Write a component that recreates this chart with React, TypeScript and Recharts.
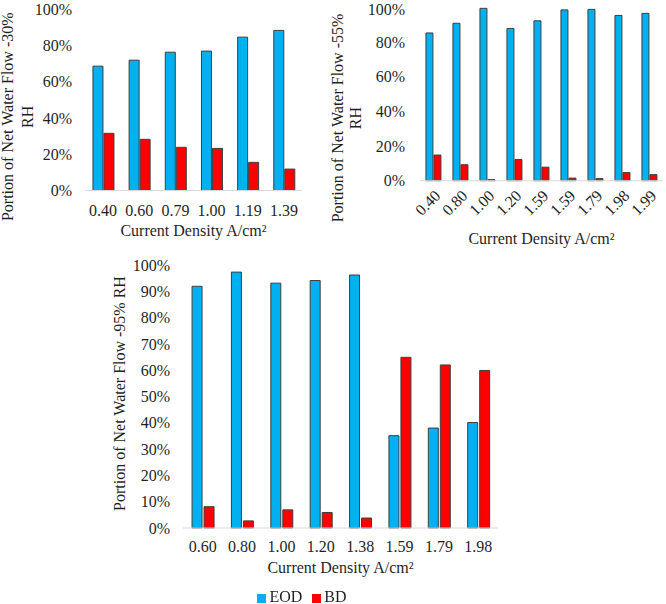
import { BarChart, Bar, XAxis, YAxis, Legend, Label } from "recharts";

// share of net water flow (%) by current density, three humidity levels
const rh30Density = ["0.40", "0.60", "0.79", "1.00", "1.19", "1.39"];
const rh30Eod = [68.5, 71.8, 76.2, 76.8, 84.5, 88.2];
const rh30Bd = [31.5, 28.2, 23.8, 23.2, 15.5, 11.8];

const rh55Density = ["0.40", "0.80", "1.00", "1.20", "1.59", "1.59", "1.79", "1.98", "1.99"];
const rh55Eod = [85.2, 90.8, 99.4, 87.8, 92.2, 98.5, 98.8, 95.3, 96.5];
const rh55Bd = [14.8, 9.2, 0.6, 12.2, 7.8, 1.5, 1.2, 4.7, 3.5];

const rh95Density = ["0.60", "0.80", "1.00", "1.20", "1.38", "1.59", "1.79", "1.98"];
const rh95Eod = [91.9, 97.3, 93.1, 94.1, 96.2, 35.1, 38.0, 40.1];
const rh95Bd = [8.1, 2.7, 6.9, 5.9, 3.8, 64.9, 62.0, 59.9];

const ticks20 = [0, 20, 40, 60, 80, 100];
const ticks10 = [0, 10, 20, 30, 40, 50, 60, 70, 80, 90, 100];
const seriesOrder = ["EOD", "BD"];

const FONT = "Liberation Serif, DejaVu Serif, serif";
const TEXT = "#1f1f1f";
const EOD_COLOR = "#00b0f0";
const BD_COLOR = "#ff0000";
const BAR_STROKE = "#3f3f3f";

const toRows = (density: string[], eod: number[], bd: number[]) =>
  density.map((d, i) => ({ density: d, EOD: eod[i], BD: bd[i] }));

const tickStyle = { fill: TEXT, fontSize: 16, style: { fontFamily: FONT } };

// rotated y title, one text per line; xs are baselines relative to the axis box
function yTitle(lines: string[], xs: number[], dy: number) {
  return (props: any) => {
    const vb = props.viewBox || {};
    const cy = vb.y + vb.height / 2 + dy;
    return (
      <g>
        {lines.map((line, i) => {
          const x = vb.x + xs[i];
          return (
            <text
              key={i}
              x={x}
              y={cy}
              transform={`rotate(-90, ${x}, ${cy})`}
              textAnchor="middle"
              fill={TEXT}
              style={{ fontFamily: FONT, fontSize: 16 }}
            >
              {line}
            </text>
          );
        })}
      </g>
    );
  };
}

function xTitle(dy: number) {
  return (props: any) => {
    const vb = props.viewBox || {};
    return (
      <text
        x={vb.x + vb.width / 2}
        y={vb.y + dy}
        textAnchor="middle"
        fill={TEXT}
        style={{ fontFamily: FONT, fontSize: 16 }}
      >
        Current Density A/cm²
      </text>
    );
  };
}

export default function App() {
  const rh30 = toRows(rh30Density, rh30Eod, rh30Bd);
  const rh55 = toRows(rh55Density, rh55Eod, rh55Bd);
  const rh95 = toRows(rh95Density, rh95Eod, rh95Bd);

  return (
    <div
      style={{
        position: "fixed",
        left: 0,
        top: 0,
        width: 666,
        height: 604,
        background: "#fff",
        fontFamily: FONT,
      }}
    >
      <div style={{ position: "absolute", left: 0, top: 0 }}>
        <BarChart
          width={330}
          height={270}
          data={rh30}
          margin={{ top: 9, right: 28, left: 0, bottom: 0 }}
          barCategoryGap="22%"
          barGap={1}
          style={{ fontFamily: FONT }}
        >
          <XAxis
            dataKey="density"
            height={79.5}
            tick={tickStyle}
            tickLine={false}
            tickMargin={8}
            axisLine={{ stroke: "#d9d9d9" }}
            interval={0}
          >
            <Label content={xTitle(45)} />
          </XAxis>
          <YAxis
            width={85}
            domain={[0, 100]}
            ticks={ticks20}
            tickFormatter={(v) => `${v}%`}
            tick={tickStyle}
            tickLine={false}
            axisLine={false}
            tickMargin={7}
          >
            <Label content={yTitle(["Portion of Net Water Flow -30%", "RH"], [13, 33], 17)} />
          </YAxis>
          <Bar dataKey="EOD" fill={EOD_COLOR} stroke={BAR_STROKE} strokeWidth={1} isAnimationActive={false} />
          <Bar dataKey="BD" fill={BD_COLOR} stroke={BAR_STROKE} strokeWidth={1} isAnimationActive={false} />
        </BarChart>
      </div>

      <div style={{ position: "absolute", left: 330, top: 0 }}>
        <BarChart
          width={336}
          height={270}
          data={rh55}
          margin={{ top: 7.3, right: 3, left: 0, bottom: 0 }}
          barCategoryGap="22%"
          barGap={1}
          style={{ fontFamily: FONT }}
        >
          <XAxis
            dataKey="density"
            height={89.3}
            tick={tickStyle}
            tickLine={false}
            axisLine={{ stroke: "#d9d9d9" }}
            angle={-45}
            textAnchor="end"
            interval={0}
          >
            <Label content={xTitle(63)} />
          </XAxis>
          <YAxis
            width={90}
            domain={[0, 100]}
            ticks={ticks20}
            tickFormatter={(v) => `${v}%`}
            tick={tickStyle}
            tickLine={false}
            axisLine={false}
            tickMargin={9}
          >
            <Label content={yTitle(["Portion of Net Water Flow -55%", "RH"], [13, 31], 24)} />
          </YAxis>
          <Bar dataKey="EOD" fill={EOD_COLOR} stroke={BAR_STROKE} strokeWidth={1} isAnimationActive={false} />
          <Bar dataKey="BD" fill={BD_COLOR} stroke={BAR_STROKE} strokeWidth={1} isAnimationActive={false} />
        </BarChart>
      </div>

      <div style={{ position: "absolute", left: 100, top: 255 }}>
        <BarChart
          width={412}
          height={349}
          data={rh95}
          margin={{ top: 10, right: 14, left: 0, bottom: 0 }}
          barCategoryGap="23%"
          barGap={2}
          style={{ fontFamily: FONT }}
        >
          <XAxis
            dataKey="density"
            height={58}
            tick={tickStyle}
            tickLine={false}
            tickMargin={7}
            axisLine={{ stroke: "#d9d9d9" }}
            interval={0}
          >
            <Label content={xTitle(44.5)} />
          </XAxis>
          <YAxis
            width={83}
            domain={[0, 100]}
            ticks={ticks10}
            tickFormatter={(v) => `${v}%`}
            tick={tickStyle}
            tickLine={false}
            axisLine={false}
            tickMargin={7}
          >
            <Label content={yTitle(["Portion of Net Water Flow -95% RH"], [25], -3)} />
          </YAxis>
          <Legend
            verticalAlign="bottom"
            iconSize={9}
            itemSorter={(item: any) => seriesOrder.indexOf(item.value)}
            wrapperStyle={{ paddingLeft: 8, marginBottom: -2 }}
            formatter={(value) => (
              <span style={{ color: TEXT, fontSize: 16, fontFamily: FONT, marginLeft: -1 }}>{value}</span>
            )}
          />
          <Bar dataKey="EOD" fill={EOD_COLOR} stroke={BAR_STROKE} strokeWidth={1} legendType="square" isAnimationActive={false} />
          <Bar dataKey="BD" fill={BD_COLOR} stroke={BAR_STROKE} strokeWidth={1} legendType="square" isAnimationActive={false} />
        </BarChart>
      </div>
    </div>
  );
}
